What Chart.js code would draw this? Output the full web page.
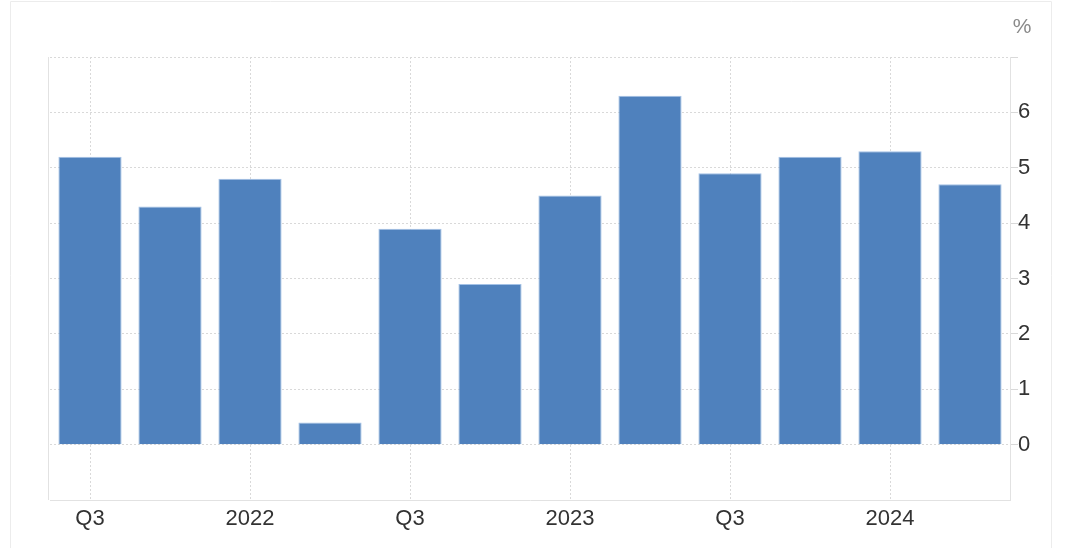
<!DOCTYPE html>
<html>
<head>
<meta charset="utf-8">
<script src="https://cdn.jsdelivr.net/npm/chart.js@4.4.1/dist/chart.umd.min.js"></script>
<style>
  html, body { margin: 0; padding: 0; background: #fff; }
  #wrap { width: 1068px; height: 548px; position: relative; }
</style>
</head>
<body>
<div id="wrap"><canvas id="c" width="1068" height="548"></canvas></div>
<script>
// Quarters: Q3 2021 .. Q2 2024
const categories = ['Q3 2021','Q4 2021','Q1 2022','Q2 2022','Q3 2022','Q4 2022','Q1 2023','Q2 2023','Q3 2023','Q4 2023','Q1 2024','Q2 2024'];
const tickLabels = ['Q3','Q4','2022','Q2','Q3','Q4','2023','Q2','Q3','Q4','2024','Q2'];
const values = [5.2, 4.3, 4.8, 0.4, 3.9, 2.9, 4.5, 6.3, 4.9, 5.2, 5.3, 4.7];
const yTicks = [0, 1, 2, 3, 4, 5, 6];
const unitLabel = '%';

const FONT = 'Helvetica, Arial, "Liberation Sans", sans-serif';
const GRID = '#d9d9d9';
const BORDER = '#e2e2e2';

const framePlugin = {
  id: 'frame',
  beforeDraw(chart) {
    const ctx = chart.ctx;
    ctx.save();
    ctx.strokeStyle = '#ececec';
    ctx.lineWidth = 1;
    ctx.beginPath();
    ctx.moveTo(10.5, 560);
    ctx.lineTo(10.5, 1.5);
    ctx.lineTo(1051.5, 1.5);
    ctx.lineTo(1051.5, 560);
    ctx.stroke();
    ctx.restore();
  },
  afterDraw(chart) {
    const ctx = chart.ctx;
    const a = chart.chartArea;
    ctx.save();
    ctx.strokeStyle = BORDER;
    ctx.lineWidth = 1;
    ctx.beginPath();
    ctx.moveTo(48.5, a.top);
    ctx.lineTo(48.5, a.bottom);
    ctx.stroke();
    ctx.fillStyle = '#8a8a8a';
    ctx.font = '21px ' + FONT;
    ctx.textAlign = 'center';
    ctx.textBaseline = 'middle';
    ctx.fillText(unitLabel, 1022, 27);
    ctx.restore();
  }
};

new Chart(document.getElementById('c'), {
  type: 'bar',
  data: {
    labels: categories,
    datasets: [{
      data: values,
      backgroundColor: '#4f81bd',
      borderColor: '#a3c1e6',
      borderWidth: { top: 1, left: 1, right: 1, bottom: 0 },
      borderSkipped: 'bottom',
      barPercentage: 0.79,
      categoryPercentage: 1.0
    }]
  },
  options: {
    responsive: false,
    animation: false,
    devicePixelRatio: 1,
    layout: { padding: { left: 50, top: 57, right: 0, bottom: 0 } },
    plugins: { legend: { display: false }, tooltip: { enabled: false } },
    scales: {
      x: {
        offset: true,
        grid: {
          offset: false,
          drawTicks: false,
          color: (ctx) => (ctx.index % 2 === 0 ? GRID : 'rgba(0,0,0,0)'),
          lineWidth: 1
        },
        border: { display: true, color: BORDER, dash: [2, 2] },
        ticks: {
          autoSkip: false,
          maxRotation: 0,
          padding: 6,
          color: '#333',
          font: { family: FONT, size: 22 },
          callback: (v, i) => (i % 2 === 0 ? tickLabels[i] : '')
        },
        afterFit: (s) => { s.height = 48; }
      },
      y: {
        position: 'right',
        min: -1,
        max: 7,
        grid: {
          color: (ctx) => (ctx.tick && ctx.tick.value === -1 ? 'rgba(0,0,0,0)' : GRID),
          tickLength: 8,
          lineWidth: 1
        },
        border: { display: true, color: BORDER, dash: [2, 2] },
        ticks: {
          stepSize: 1,
          padding: 0,
          color: '#333',
          font: { family: FONT, size: 22 },
          callback: (v) => (yTicks.includes(v) ? String(v) : '')
        },
        afterFit: (s) => { s.width = 58; }
      }
    }
  },
  plugins: [framePlugin]
});
</script>
</body>
</html>
